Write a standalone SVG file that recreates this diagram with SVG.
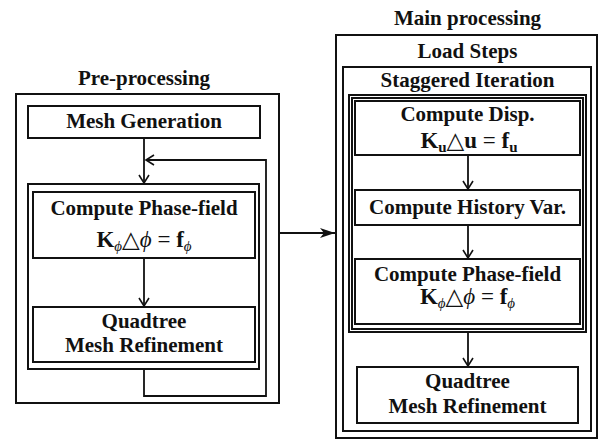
<svg xmlns="http://www.w3.org/2000/svg" width="598" height="441" viewBox="0 0 598 441">
<style>
.box{fill:none;stroke:#111;stroke-width:2}
.t{font-family:"Liberation Serif","DejaVu Serif",serif;font-weight:bold;font-size:21px;text-anchor:middle;fill:#111}
.eq{font-family:"Liberation Serif","DejaVu Serif",serif;font-size:23px;text-anchor:middle;fill:#111}
.sub{font-size:15px;font-style:italic;font-weight:normal}
.subu{font-size:15px;font-style:normal;font-weight:bold}
.b{font-weight:bold}
.i{font-style:italic}
.ln{fill:none;stroke:#111;stroke-width:1.8}
</style>
<defs>
<marker id="v" markerWidth="12" markerHeight="12" refX="10" refY="6" orient="auto" markerUnits="userSpaceOnUse">
<path d="M2,1 L10,6 L2,11" fill="none" stroke="#111" stroke-width="1.6"/>
</marker>
<marker id="f" markerWidth="16" markerHeight="12" refX="15" refY="6" orient="auto" markerUnits="userSpaceOnUse">
<path d="M0,1 L15,6 L0,11 L4,6 Z" fill="#111"/>
</marker>
</defs>

<g id="pre">
<text class="t" x="144" y="85">Pre-processing</text>
<rect class="box" x="16" y="94" width="263" height="309"/>
</g>
<g id="mesh-gen">
<rect class="box" x="28" y="106" width="232" height="32"/>
<text class="t" x="144" y="128">Mesh Generation</text>
</g>
<g id="pre-loop">
<rect class="box" x="28" y="184" width="231" height="185"/>
</g>
<g id="pre-phase">
<rect class="box" x="33" y="192" width="222" height="66"/>
<text class="t" x="144" y="215">Compute Phase-field</text>
<text class="eq" x="144" y="247"><tspan class="b">K</tspan><tspan class="sub" dy="4">ϕ</tspan><tspan dy="-4">△</tspan><tspan class="i">ϕ</tspan> = <tspan class="b">f</tspan><tspan class="sub" dy="4">ϕ</tspan></text>
</g>
<g id="pre-quad">
<rect class="box" x="33" y="307" width="222" height="55"/>
<text class="t" x="144" y="328">Quadtree</text>
<text class="t" x="144" y="352">Mesh Refinement</text>
</g>

<g id="main">
<text class="t" x="467.5" y="25">Main processing</text>
<rect class="box" x="336" y="35" width="261" height="403"/>
<text class="t" x="467.5" y="58">Load Steps</text>
</g>
<g id="staggered">
<rect class="box" x="343" y="67" width="248" height="364"/>
<text class="t" x="467.5" y="87">Staggered Iteration</text>
</g>
<g id="main-loop">
<rect class="box" x="349" y="95" width="237" height="237"/>
<rect class="box" x="352" y="98" width="231" height="231"/>
</g>
<g id="disp">
<rect class="box" x="355" y="101" width="225" height="54"/>
<text class="t" x="467.5" y="121">Compute Disp.</text>
<text class="eq" x="469" y="148"><tspan class="b">K</tspan><tspan class="subu" dy="4">u</tspan><tspan dy="-4">△</tspan><tspan class="b">u</tspan> = <tspan class="b">f</tspan><tspan class="subu" dy="4">u</tspan></text>
</g>
<g id="history">
<rect class="box" x="355" y="190" width="225" height="35"/>
<text class="t" x="467.5" y="214">Compute History Var.</text>
</g>
<g id="main-phase">
<rect class="box" x="355" y="259" width="225" height="65"/>
<text class="t" x="467.5" y="281">Compute Phase-field</text>
<text class="eq" x="467.5" y="304"><tspan class="b">K</tspan><tspan class="sub" dy="4">ϕ</tspan><tspan dy="-4">△</tspan><tspan class="i">ϕ</tspan> = <tspan class="b">f</tspan><tspan class="sub" dy="4">ϕ</tspan></text>
</g>
<g id="main-quad">
<rect class="box" x="357" y="367" width="221" height="56"/>
<text class="t" x="467.5" y="388">Quadtree</text>
<text class="t" x="467.5" y="413">Mesh Refinement</text>
</g>

<g id="connectors">
<path class="ln" d="M144,138 V183" marker-end="url(#v)"/>
<path class="ln" d="M144,369 V396 H266 V160 H146" marker-end="url(#v)"/>
<path class="ln" d="M144,258 V306" marker-end="url(#v)"/>
<path class="ln" d="M279,233 H335" marker-end="url(#f)"/>
<path class="ln" d="M468,155 V189" marker-end="url(#v)"/>
<path class="ln" d="M468,225 V258" marker-end="url(#v)"/>
<path class="ln" d="M468,332 V366" marker-end="url(#v)"/>
</g>
</svg>
